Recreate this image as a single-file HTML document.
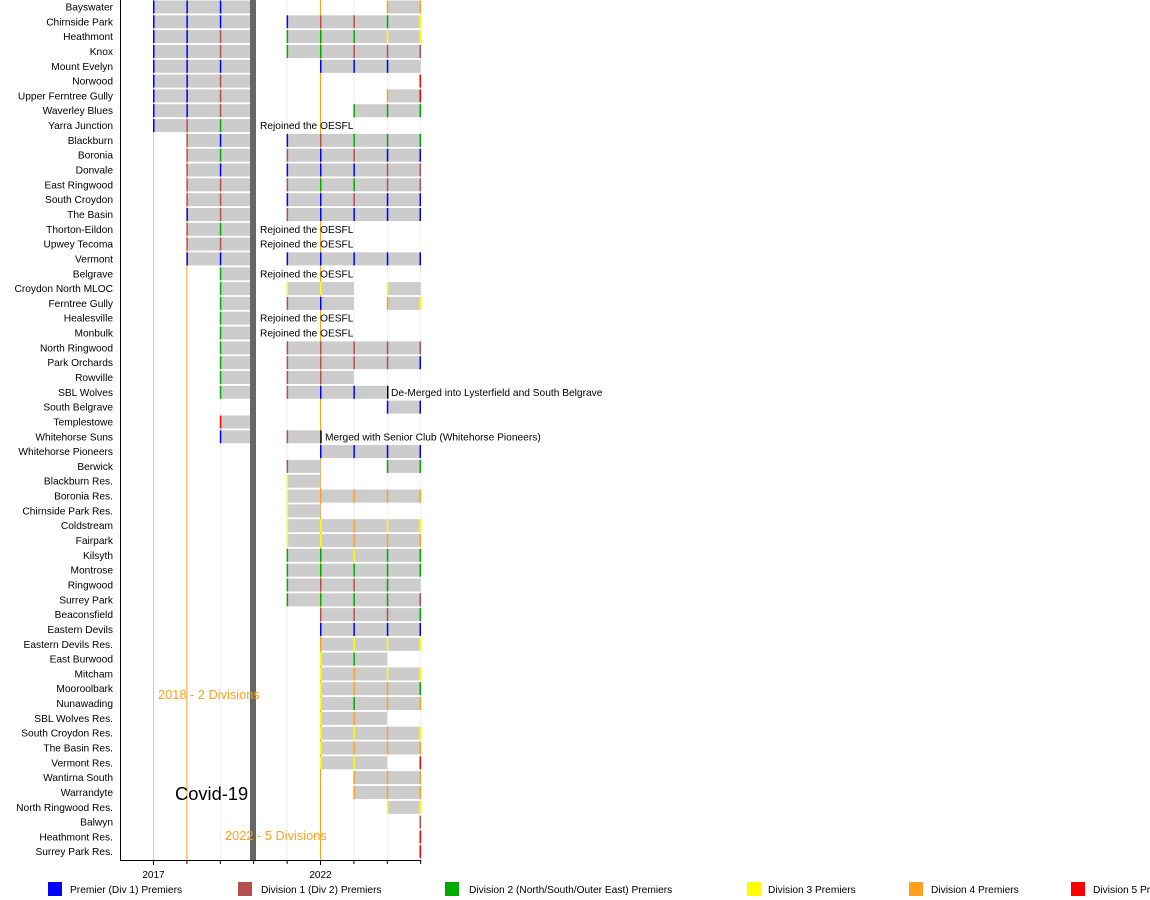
<!DOCTYPE html>
<html><head><meta charset="utf-8"><style>
html,body{margin:0;padding:0;background:#fff}
svg{display:block;font-family:"Liberation Sans",Arial,sans-serif}
.l{font-size:10.2px;text-anchor:end;fill:#000}
.t{font-size:10.2px;fill:#000}
.q{y:-6.5px;height:13px;fill:#cccccc}
.m{y:-6.5px;width:1.5px;height:13px}
.b{fill:#0000ff}.r{fill:#b55050}.g{fill:#00aa00}.y{fill:#ffff00}.o{fill:#ffa020}.R{fill:#ff0000}.k{fill:#000}
</style></head><body>
<svg width="1150" height="900" viewBox="0 0 1150 900">
<g stroke-width="1">
<line x1="153.5" y1="0" x2="153.5" y2="860" stroke="#cccccc"/>
<line x1="220.3" y1="0" x2="220.3" y2="860" stroke="#eeeeee"/>
<line x1="287.1" y1="0" x2="287.1" y2="860" stroke="#eeeeee"/>
<line x1="353.9" y1="0" x2="353.9" y2="860" stroke="#eeeeee"/>
<line x1="387.3" y1="0" x2="387.3" y2="860" stroke="#eeeeee"/>
<line x1="420.7" y1="0" x2="420.7" y2="860" stroke="#eeeeee"/>
<line x1="186.9" y1="0" x2="186.9" y2="860" stroke="#ffa020"/>
<line x1="320.5" y1="0" x2="320.5" y2="860" stroke="#ffa020"/>
</g>
<rect x="250" y="0" width="6" height="860" fill="#666666"/>

<g class="l">
<text x="113" y="10.5">Bayswater</text>
<text x="113" y="25.3">Chirnside Park</text>
<text x="113" y="40.1">Heathmont</text>
<text x="113" y="55">Knox</text>
<text x="113" y="69.8">Mount Evelyn</text>
<text x="113" y="84.6">Norwood</text>
<text x="113" y="99.4">Upper Ferntree Gully</text>
<text x="113" y="114.2">Waverley Blues</text>
<text x="113" y="129.1">Yarra Junction</text>
<text x="113" y="143.9">Blackburn</text>
<text x="113" y="158.7">Boronia</text>
<text x="113" y="173.5">Donvale</text>
<text x="113" y="188.3">East Ringwood</text>
<text x="113" y="203.2">South Croydon</text>
<text x="113" y="218">The Basin</text>
<text x="113" y="232.8">Thorton-Eildon</text>
<text x="113" y="247.6">Upwey Tecoma</text>
<text x="113" y="262.4">Vermont</text>
<text x="113" y="277.3">Belgrave</text>
<text x="113" y="292.1">Croydon North MLOC</text>
<text x="113" y="306.9">Ferntree Gully</text>
<text x="113" y="321.7">Healesville</text>
<text x="113" y="336.5">Monbulk</text>
<text x="113" y="351.4">North Ringwood</text>
<text x="113" y="366.2">Park Orchards</text>
<text x="113" y="381">Rowville</text>
<text x="113" y="395.8">SBL Wolves</text>
<text x="113" y="410.6">South Belgrave</text>
<text x="113" y="425.5">Templestowe</text>
<text x="113" y="440.3">Whitehorse Suns</text>
<text x="113" y="455.1">Whitehorse Pioneers</text>
<text x="113" y="469.9">Berwick</text>
<text x="113" y="484.7">Blackburn Res.</text>
<text x="113" y="499.6">Boronia Res.</text>
<text x="113" y="514.4">Chirnside Park Res.</text>
<text x="113" y="529.2">Coldstream</text>
<text x="113" y="544">Fairpark</text>
<text x="113" y="558.8">Kilsyth</text>
<text x="113" y="573.7">Montrose</text>
<text x="113" y="588.5">Ringwood</text>
<text x="113" y="603.3">Surrey Park</text>
<text x="113" y="618.1">Beaconsfield</text>
<text x="113" y="632.9">Eastern Devils</text>
<text x="113" y="647.8">Eastern Devils Res.</text>
<text x="113" y="662.6">East Burwood</text>
<text x="113" y="677.4">Mitcham</text>
<text x="113" y="692.2">Mooroolbark</text>
<text x="113" y="707">Nunawading</text>
<text x="113" y="721.9">SBL Wolves Res.</text>
<text x="113" y="736.7">South Croydon Res.</text>
<text x="113" y="751.5">The Basin Res.</text>
<text x="113" y="766.3">Vermont Res.</text>
<text x="113" y="781.1">Wantirna South</text>
<text x="113" y="796">Warrandyte</text>
<text x="113" y="810.8">North Ringwood Res.</text>
<text x="113" y="825.6">Balwyn</text>
<text x="113" y="840.4">Heathmont Res.</text>
<text x="113" y="855.2">Surrey Park Res.</text>
</g>

<g transform="translate(0,7)"><rect class="q" x="153.5" width="96.5"/><rect class="q" x="387.3" width="33.4"/><rect class="m b" x="153"/><rect class="m b" x="186.4"/><rect class="m b" x="219.8"/><rect class="m o" x="386.8"/><rect class="m o" x="419.5"/></g>
<g transform="translate(0,21.8)"><rect class="q" x="153.5" width="96.5"/><rect class="q" x="287.1" width="133.6"/><rect class="m b" x="153"/><rect class="m b" x="186.4"/><rect class="m b" x="219.8"/><rect class="m b" x="286.6"/><rect class="m r" x="320"/><rect class="m r" x="353.4"/><rect class="m g" x="386.8"/><rect class="m y" x="419.5"/></g>
<g transform="translate(0,36.6)"><rect class="q" x="153.5" width="96.5"/><rect class="q" x="287.1" width="133.6"/><rect class="m b" x="153"/><rect class="m b" x="186.4"/><rect class="m r" x="219.8"/><rect class="m g" x="286.6"/><rect class="m g" x="320"/><rect class="m g" x="353.4"/><rect class="m y" x="386.8"/><rect class="m y" x="419.5"/></g>
<g transform="translate(0,51.5)"><rect class="q" x="153.5" width="96.5"/><rect class="q" x="287.1" width="133.6"/><rect class="m b" x="153"/><rect class="m b" x="186.4"/><rect class="m r" x="219.8"/><rect class="m g" x="286.6"/><rect class="m g" x="320"/><rect class="m r" x="353.4"/><rect class="m r" x="386.8"/><rect class="m r" x="419.5"/></g>
<g transform="translate(0,66.3)"><rect class="q" x="153.5" width="96.5"/><rect class="q" x="320.5" width="100.2"/><rect class="m b" x="153"/><rect class="m b" x="186.4"/><rect class="m b" x="219.8"/><rect class="m b" x="320"/><rect class="m b" x="353.4"/><rect class="m b" x="386.8"/></g>
<g transform="translate(0,81.1)"><rect class="q" x="153.5" width="96.5"/><rect class="m b" x="153"/><rect class="m b" x="186.4"/><rect class="m r" x="219.8"/><rect class="m R" x="419.5"/></g>
<g transform="translate(0,95.9)"><rect class="q" x="153.5" width="96.5"/><rect class="q" x="387.3" width="33.4"/><rect class="m b" x="153"/><rect class="m b" x="186.4"/><rect class="m r" x="219.8"/><rect class="m o" x="386.8"/><rect class="m R" x="419.5"/></g>
<g transform="translate(0,110.7)"><rect class="q" x="153.5" width="96.5"/><rect class="q" x="353.9" width="66.8"/><rect class="m b" x="153"/><rect class="m b" x="186.4"/><rect class="m r" x="219.8"/><rect class="m g" x="353.4"/><rect class="m g" x="386.8"/><rect class="m g" x="419.5"/></g>
<g transform="translate(0,125.6)"><rect class="q" x="153.5" width="96.5"/><rect class="m b" x="153"/><rect class="m r" x="186.4"/><rect class="m g" x="219.8"/><text class="t" x="260" y="3.5">Rejoined the OESFL</text></g>
<g transform="translate(0,140.4)"><rect class="q" x="186.9" width="63.1"/><rect class="q" x="287.1" width="133.6"/><rect class="m r" x="186.4"/><rect class="m b" x="219.8"/><rect class="m b" x="286.6"/><rect class="m r" x="320"/><rect class="m g" x="353.4"/><rect class="m g" x="386.8"/><rect class="m g" x="419.5"/></g>
<g transform="translate(0,155.2)"><rect class="q" x="186.9" width="63.1"/><rect class="q" x="287.1" width="133.6"/><rect class="m r" x="186.4"/><rect class="m g" x="219.8"/><rect class="m r" x="286.6"/><rect class="m b" x="320"/><rect class="m r" x="353.4"/><rect class="m b" x="386.8"/><rect class="m b" x="419.5"/></g>
<g transform="translate(0,170)"><rect class="q" x="186.9" width="63.1"/><rect class="q" x="287.1" width="133.6"/><rect class="m r" x="186.4"/><rect class="m b" x="219.8"/><rect class="m b" x="286.6"/><rect class="m b" x="320"/><rect class="m b" x="353.4"/><rect class="m r" x="386.8"/><rect class="m r" x="419.5"/></g>
<g transform="translate(0,184.8)"><rect class="q" x="186.9" width="63.1"/><rect class="q" x="287.1" width="133.6"/><rect class="m r" x="186.4"/><rect class="m r" x="219.8"/><rect class="m r" x="286.6"/><rect class="m g" x="320"/><rect class="m g" x="353.4"/><rect class="m r" x="386.8"/><rect class="m r" x="419.5"/></g>
<g transform="translate(0,199.7)"><rect class="q" x="186.9" width="63.1"/><rect class="q" x="287.1" width="133.6"/><rect class="m r" x="186.4"/><rect class="m r" x="219.8"/><rect class="m b" x="286.6"/><rect class="m b" x="320"/><rect class="m r" x="353.4"/><rect class="m b" x="386.8"/><rect class="m b" x="419.5"/></g>
<g transform="translate(0,214.5)"><rect class="q" x="186.9" width="63.1"/><rect class="q" x="287.1" width="133.6"/><rect class="m b" x="186.4"/><rect class="m r" x="219.8"/><rect class="m r" x="286.6"/><rect class="m b" x="320"/><rect class="m b" x="353.4"/><rect class="m b" x="386.8"/><rect class="m b" x="419.5"/></g>
<g transform="translate(0,229.3)"><rect class="q" x="186.9" width="63.1"/><rect class="m r" x="186.4"/><rect class="m g" x="219.8"/><text class="t" x="260" y="3.5">Rejoined the OESFL</text></g>
<g transform="translate(0,244.1)"><rect class="q" x="186.9" width="63.1"/><rect class="m r" x="186.4"/><rect class="m r" x="219.8"/><text class="t" x="260" y="3.5">Rejoined the OESFL</text></g>
<g transform="translate(0,258.9)"><rect class="q" x="186.9" width="63.1"/><rect class="q" x="287.1" width="133.6"/><rect class="m b" x="186.4"/><rect class="m b" x="219.8"/><rect class="m b" x="286.6"/><rect class="m b" x="320"/><rect class="m b" x="353.4"/><rect class="m b" x="386.8"/><rect class="m b" x="419.5"/></g>
<g transform="translate(0,273.8)"><rect class="q" x="220.3" width="29.7"/><rect class="m g" x="219.8"/><text class="t" x="260" y="3.5">Rejoined the OESFL</text></g>
<g transform="translate(0,288.6)"><rect class="q" x="220.3" width="29.7"/><rect class="q" x="287.1" width="66.8"/><rect class="q" x="387.3" width="33.4"/><rect class="m g" x="219.8"/><rect class="m y" x="286.6"/><rect class="m y" x="320"/><rect class="m y" x="386.8"/></g>
<g transform="translate(0,303.4)"><rect class="q" x="220.3" width="29.7"/><rect class="q" x="287.1" width="66.8"/><rect class="q" x="387.3" width="33.4"/><rect class="m g" x="219.8"/><rect class="m r" x="286.6"/><rect class="m b" x="320"/><rect class="m o" x="386.8"/><rect class="m y" x="419.5"/></g>
<g transform="translate(0,318.2)"><rect class="q" x="220.3" width="29.7"/><rect class="m g" x="219.8"/><text class="t" x="260" y="3.5">Rejoined the OESFL</text></g>
<g transform="translate(0,333)"><rect class="q" x="220.3" width="29.7"/><rect class="m g" x="219.8"/><text class="t" x="260" y="3.5">Rejoined the OESFL</text></g>
<g transform="translate(0,347.9)"><rect class="q" x="220.3" width="29.7"/><rect class="q" x="287.1" width="133.6"/><rect class="m g" x="219.8"/><rect class="m r" x="286.6"/><rect class="m r" x="320"/><rect class="m r" x="353.4"/><rect class="m r" x="386.8"/><rect class="m r" x="419.5"/></g>
<g transform="translate(0,362.7)"><rect class="q" x="220.3" width="29.7"/><rect class="q" x="287.1" width="133.6"/><rect class="m g" x="219.8"/><rect class="m r" x="286.6"/><rect class="m r" x="320"/><rect class="m r" x="353.4"/><rect class="m r" x="386.8"/><rect class="m b" x="419.5"/></g>
<g transform="translate(0,377.5)"><rect class="q" x="220.3" width="29.7"/><rect class="q" x="287.1" width="66.8"/><rect class="m g" x="219.8"/><rect class="m r" x="286.6"/><rect class="m r" x="320"/></g>
<g transform="translate(0,392.3)"><rect class="q" x="220.3" width="29.7"/><rect class="q" x="287.1" width="100.2"/><rect class="m g" x="219.8"/><rect class="m r" x="286.6"/><rect class="m b" x="320"/><rect class="m b" x="353.4"/><rect class="m k" x="387"/><text class="t" x="391" y="3.5">De-Merged into Lysterfield and South Belgrave</text></g>
<g transform="translate(0,407.1)"><rect class="q" x="387.3" width="33.4"/><rect class="m b" x="386.8"/><rect class="m b" x="419.5"/></g>
<g transform="translate(0,422)"><rect class="q" x="220.3" width="29.7"/><rect class="m R" x="219.8"/></g>
<g transform="translate(0,436.8)"><rect class="q" x="220.3" width="29.7"/><rect class="q" x="287.1" width="33.4"/><rect class="m b" x="219.8"/><rect class="m r" x="286.6"/><rect class="m k" x="320.2"/><text class="t" x="325" y="3.5">Merged with Senior Club (Whitehorse Pioneers)</text></g>
<g transform="translate(0,451.6)"><rect class="q" x="320.5" width="100.2"/><rect class="m b" x="320"/><rect class="m b" x="353.4"/><rect class="m b" x="386.8"/><rect class="m b" x="419.5"/></g>
<g transform="translate(0,466.4)"><rect class="q" x="287.1" width="33.4"/><rect class="q" x="387.3" width="33.4"/><rect class="m r" x="286.6"/><rect class="m g" x="386.8"/><rect class="m g" x="419.5"/></g>
<g transform="translate(0,481.2)"><rect class="q" x="287.1" width="33.4"/><rect class="m y" x="286.6"/></g>
<g transform="translate(0,496.1)"><rect class="q" x="287.1" width="133.6"/><rect class="m y" x="286.6"/><rect class="m o" x="320"/><rect class="m o" x="353.4"/><rect class="m o" x="386.8"/><rect class="m o" x="419.5"/></g>
<g transform="translate(0,510.9)"><rect class="q" x="287.1" width="33.4"/><rect class="m y" x="286.6"/></g>
<g transform="translate(0,525.7)"><rect class="q" x="287.1" width="133.6"/><rect class="m y" x="286.6"/><rect class="m y" x="320"/><rect class="m o" x="353.4"/><rect class="m y" x="386.8"/><rect class="m y" x="419.5"/></g>
<g transform="translate(0,540.5)"><rect class="q" x="287.1" width="133.6"/><rect class="m y" x="286.6"/><rect class="m y" x="320"/><rect class="m o" x="353.4"/><rect class="m o" x="386.8"/><rect class="m o" x="419.5"/></g>
<g transform="translate(0,555.3)"><rect class="q" x="287.1" width="133.6"/><rect class="m g" x="286.6"/><rect class="m g" x="320"/><rect class="m y" x="353.4"/><rect class="m g" x="386.8"/><rect class="m g" x="419.5"/></g>
<g transform="translate(0,570.2)"><rect class="q" x="287.1" width="133.6"/><rect class="m g" x="286.6"/><rect class="m g" x="320"/><rect class="m g" x="353.4"/><rect class="m g" x="386.8"/><rect class="m g" x="419.5"/></g>
<g transform="translate(0,585)"><rect class="q" x="287.1" width="133.6"/><rect class="m g" x="286.6"/><rect class="m r" x="320"/><rect class="m r" x="353.4"/><rect class="m g" x="386.8"/></g>
<g transform="translate(0,599.8)"><rect class="q" x="287.1" width="133.6"/><rect class="m g" x="286.6"/><rect class="m g" x="320"/><rect class="m g" x="353.4"/><rect class="m g" x="386.8"/><rect class="m r" x="419.5"/></g>
<g transform="translate(0,614.6)"><rect class="q" x="320.5" width="100.2"/><rect class="m r" x="320"/><rect class="m r" x="353.4"/><rect class="m r" x="386.8"/><rect class="m g" x="419.5"/></g>
<g transform="translate(0,629.4)"><rect class="q" x="320.5" width="100.2"/><rect class="m b" x="320"/><rect class="m b" x="353.4"/><rect class="m b" x="386.8"/><rect class="m b" x="419.5"/></g>
<g transform="translate(0,644.3)"><rect class="q" x="320.5" width="100.2"/><rect class="m o" x="320"/><rect class="m y" x="353.4"/><rect class="m y" x="386.8"/><rect class="m y" x="419.5"/></g>
<g transform="translate(0,659.1)"><rect class="q" x="320.5" width="66.8"/><rect class="m y" x="320"/><rect class="m g" x="353.4"/></g>
<g transform="translate(0,673.9)"><rect class="q" x="320.5" width="100.2"/><rect class="m y" x="320"/><rect class="m o" x="353.4"/><rect class="m y" x="386.8"/><rect class="m y" x="419.5"/></g>
<g transform="translate(0,688.7)"><rect class="q" x="320.5" width="100.2"/><rect class="m y" x="320"/><rect class="m o" x="353.4"/><rect class="m o" x="386.8"/><rect class="m g" x="419.5"/></g>
<g transform="translate(0,703.5)"><rect class="q" x="320.5" width="100.2"/><rect class="m y" x="320"/><rect class="m g" x="353.4"/><rect class="m o" x="386.8"/><rect class="m o" x="419.5"/></g>
<g transform="translate(0,718.4)"><rect class="q" x="320.5" width="66.8"/><rect class="m y" x="320"/><rect class="m o" x="353.4"/></g>
<g transform="translate(0,733.2)"><rect class="q" x="320.5" width="100.2"/><rect class="m y" x="320"/><rect class="m y" x="353.4"/><rect class="m o" x="386.8"/><rect class="m y" x="419.5"/></g>
<g transform="translate(0,748)"><rect class="q" x="320.5" width="100.2"/><rect class="m y" x="320"/><rect class="m o" x="353.4"/><rect class="m o" x="386.8"/><rect class="m o" x="419.5"/></g>
<g transform="translate(0,762.8)"><rect class="q" x="320.5" width="66.8"/><rect class="m y" x="320"/><rect class="m y" x="353.4"/><rect class="m R" x="419.5"/></g>
<g transform="translate(0,777.6)"><rect class="q" x="353.9" width="66.8"/><rect class="m o" x="353.4"/><rect class="m o" x="386.8"/><rect class="m o" x="419.5"/></g>
<g transform="translate(0,792.5)"><rect class="q" x="353.9" width="66.8"/><rect class="m o" x="353.4"/><rect class="m o" x="386.8"/><rect class="m o" x="419.5"/></g>
<g transform="translate(0,807.3)"><rect class="q" x="387.3" width="33.4"/><rect class="m y" x="386.8"/><rect class="m y" x="419.5"/></g>
<g transform="translate(0,822.1)"><rect class="m r" x="419.5"/></g>
<g transform="translate(0,836.9)"><rect class="m R" x="419.5"/></g>
<g transform="translate(0,851.7)"><rect class="m R" x="419.5"/></g>

<text x="158" y="699" font-size="12.8" fill="#ffa020">2018 - 2 Divisions</text>
<text x="175" y="800" font-size="18.3" fill="#000">Covid-19</text>
<text x="225" y="840" font-size="12.8" fill="#ffa020">2022 - 5 Divisions</text>

<line x1="120.5" y1="0" x2="120.5" y2="860.5" stroke="#000" stroke-width="1"/>
<line x1="120" y1="860.5" x2="421" y2="860.5" stroke="#000" stroke-width="1"/>
<g stroke="#000" stroke-width="1">
<line x1="153.5" y1="860" x2="153.5" y2="865"/>
<line x1="186.9" y1="860" x2="186.9" y2="864"/>
<line x1="220.3" y1="860" x2="220.3" y2="864"/>
<line x1="253.7" y1="860" x2="253.7" y2="864"/>
<line x1="287.1" y1="860" x2="287.1" y2="864"/>
<line x1="320.5" y1="860" x2="320.5" y2="865"/>
<line x1="353.9" y1="860" x2="353.9" y2="864"/>
<line x1="387.3" y1="860" x2="387.3" y2="864"/>
<line x1="420.7" y1="860" x2="420.7" y2="864"/>
</g>
<text x="153.5" y="878" font-size="10" text-anchor="middle">2017</text>
<text x="320.5" y="878" font-size="10" text-anchor="middle">2022</text>

<g font-size="10.2">
<rect x="48" y="882" width="14" height="14" fill="#0000ff"/><text x="70" y="893">Premier (Div 1) Premiers</text>
<rect x="238" y="882" width="14" height="14" fill="#b55050"/><text x="261" y="893">Division 1 (Div 2) Premiers</text>
<rect x="445" y="882" width="14" height="14" fill="#00aa00"/><text x="469" y="893">Division 2 (North/South/Outer East) Premiers</text>
<rect x="747" y="882" width="14" height="14" fill="#ffff00"/><text x="768" y="893">Division 3 Premiers</text>
<rect x="909" y="882" width="14" height="14" fill="#ffa020"/><text x="931" y="893">Division 4 Premiers</text>
<rect x="1071" y="882" width="14" height="14" fill="#ff0000"/><text x="1093" y="893">Division 5 Premiers</text>
</g>
</svg>
</body></html>
